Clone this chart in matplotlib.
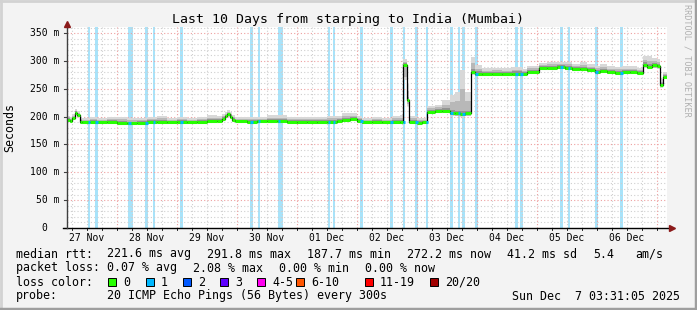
import matplotlib
matplotlib.use("Agg")
import matplotlib.pyplot as plt
import matplotlib.transforms as mtrans
from matplotlib.patches import Rectangle
import numpy as np

# --- data (hours since start of the 10 day window, ms) ---
med_h = [0, 1, 2, 3, 4, 5, 6, 9, 12, 16, 20, 24, 28, 32, 36, 40, 44, 48, 52, 56,
         60, 62, 63, 64, 65, 66, 67, 72, 76, 80, 84, 88, 92, 96, 100, 104, 108, 110,
         113, 116, 118, 122, 126, 130, 133, 134.5, 135.9, 136.8, 140, 142, 144, 147,
         150, 153, 155, 157, 159, 161.6, 163, 166, 170, 174, 178, 182, 184, 188.8,
         192, 196, 199, 202, 205, 208, 211, 213, 216, 219, 222, 225, 228, 230.4, 232,
         234, 236, 237.2, 238.4]
med_v = [194, 192, 197, 207, 203, 191, 190, 191, 190, 191, 189, 188, 189, 190, 191, 190,
         191, 190, 191, 192, 193, 196, 201, 204, 200, 194, 192, 191, 192, 193, 192, 191,
         190, 191, 190, 191, 192, 194, 196, 192, 190, 191, 190, 191, 190, 292, 230, 191,
         189, 190, 209, 210, 211, 207, 206, 205, 206, 281, 277, 276, 277, 276, 277, 276,
         281, 288, 288, 289, 287, 285, 286, 284, 281, 282, 280, 279, 281, 280, 279, 293,
         290, 292, 291, 257, 272]
smoke_up = [6, 5, 6, 5, 5, 7, 6, 7, 6, 7, 8, 7, 6, 7, 8, 6, 7, 6, 7, 8, 6, 7, 6, 6, 6, 7,
            6, 7, 6, 7, 8, 6, 7, 6, 7, 8, 7, 9, 8, 7, 6, 7, 6, 8, 10, 9, 22, 8, 7, 6, 8, 9,
            14, 25, 30, 60, 30, 20, 12, 9, 8, 9, 10, 8, 8, 7, 8, 7, 9, 8, 9, 8, 8, 9, 8, 8,
            7, 8, 7, 12, 14, 10, 9, 8, 6]
smoke_dn = [3, 3, 3, 3, 3, 3, 2, 3, 2, 3, 2, 3, 2, 3, 2, 3, 2, 3, 2, 3, 2, 3, 3, 3, 3, 3,
            2, 3, 2, 3, 2, 3, 2, 3, 2, 3, 3, 3, 3, 3, 3, 2, 3, 3, 3, 20, 8, 3, 2, 3, 3, 3,
            3, 4, 4, 4, 4, 5, 3, 3, 3, 3, 3, 3, 3, 3, 3, 3, 3, 3, 3, 3, 3, 3, 3, 3, 3, 3, 3,
            4, 4, 4, 4, 4, 3]

loss_start = [8.3, 11.2, 24.4, 31.2, 34.3, 45.2, 73.2, 76.3, 84.3, 104.3, 106.3, 117.2,
              129.2, 134.3, 139.3, 143.5, 153.3, 156.3, 158.1, 163.2, 179.2, 181.2,
              197.2, 200.3, 211.3, 221.2]
loss_len = [1, 1, 2, 1, 1, 1, 1, 1, 2, 1, 1, 1, 1, 0.7, 1, 1, 1, 1, 1, 1, 1, 1, 1, 1, 1, 1]

day_labels = ["27 Nov", "28 Nov", "29 Nov", "30 Nov", "01 Dec",
              "02 Dec", "03 Dec", "04 Dec", "05 Dec", "06 Dec"]
y_ticks = [0, 50, 100, 150, 200, 250, 300, 350]
y_labels = ["0", "50 m", "100 m", "150 m", "200 m", "250 m", "300 m", "350 m"]

loss_names = ["0", "1", "2", "3", "4-5", "6-10", "11-19", "20/20"]
loss_colors = ["#26ff00", "#00b8ff", "#0059ff", "#5e00ff", "#ff00f0",
               "#ff5500", "#ff0000", "#a10000"]

W, H = 697, 310
MONO = "DejaVu Sans Mono"
plt.rcParams["font.family"] = MONO

fig = plt.figure(figsize=(W / 100, H / 100), dpi=100, facecolor="#f3f3f3")
ax = fig.add_axes([67 / W, (H - 228) / H, 600 / W, 201 / H])
ax.set_facecolor("white")
ax.set_xlim(0, 240)
ax.set_ylim(0, 361)
for s in ax.spines.values():
    s.set_visible(False)
ax.set_xticks([])
ax.set_yticks([])


def px(x, y):
    return x / W, 1 - y / H


# loss background bars
for st, ln in zip(loss_start, loss_len):
    ax.axvspan(st, st + ln, color="#a8e3fa", lw=0, zorder=0.5)

# grid
dots = (0, (1, 2))
for v in range(10, 361, 10):
    if v % 50:
        ax.axhline(v, color="#cfcfcf", ls=dots, lw=0.8, zorder=1)
for h in np.arange(2, 240, 6):
    if (h - 20) % 24:
        ax.axvline(h, color="#cfcfcf", ls=dots, lw=0.8, zorder=1)
for v in range(50, 361, 50):
    ax.axhline(v, color="#ee9f9f", ls=dots, lw=0.8, zorder=1.1)
for h in range(20, 240, 24):
    ax.axvline(h, color="#ee9f9f", ls=dots, lw=0.8, zorder=1.1)

# smoke
hh = np.array(med_h + [240])
mv = np.array(med_v + [med_v[-1]], dtype=float)
up = np.array(smoke_up + [smoke_up[-1]], dtype=float)
dn = np.array(smoke_dn + [smoke_dn[-1]], dtype=float)
ax.fill_between(hh, mv - dn * 1.3, mv + up * 1.3, step="post", color="#d8d8d8", lw=0, zorder=2)
ax.fill_between(hh, mv - dn, mv + up * 0.75, step="post", color="#b8b8b8", lw=0, zorder=2.1)
ax.fill_between(hh, mv - 2.5, mv + np.minimum(up * 0.45, 5), step="post", color="#939393", lw=0, zorder=2.2)

# median line
ax.step(hh, mv, where="post", color="black", lw=0.9, zorder=3)
ax.hlines(med_v, med_h, hh[1:], color=loss_colors[0], lw=2.2, zorder=3.1)
for st, ln in zip(loss_start, loss_len):
    i = np.searchsorted(hh, st, side="right") - 1
    ax.hlines(mv[i], st, st + min(ln, 1), color=loss_colors[1], lw=2.2, zorder=3.2)

# axes lines with arrows
ax.plot([-1.6, 241.5], [0, 0], color="black", lw=1, clip_on=False, zorder=4)
ax.plot([0, 0], [0, 366], color="#404040", lw=1, clip_on=False, zorder=4)
ax.plot([242], [0], marker=">", color="#8b1a1a", ms=4.5, clip_on=False, zorder=5)
ax.plot([0], [366], marker="^", color="#8b1a1a", ms=4.5, clip_on=False, zorder=5)

# ticks
blend_y = mtrans.blended_transform_factory(ax.transAxes, ax.transData)
for v, lab in zip(y_ticks, y_labels):
    xe = (59 - 67) / 600 if v else (47 - 67) / 600
    ax.text(xe, v, lab, transform=blend_y, ha="right", va="center", fontsize=7)
    ax.plot([-1.2, 0], [v, v], color="#404040", lw=0.8, clip_on=False)
blend_x = mtrans.blended_transform_factory(ax.transData, ax.transAxes)
for k, lab in enumerate(day_labels):
    ax.text(8 + 24 * k, -10 / 201, lab, transform=blend_x, ha="center", va="center", fontsize=7)
for h in np.arange(2, 240, 6):
    ax.plot([h, h], [0, -1.5 / 201], transform=blend_x, color="black", lw=0.6, clip_on=False)

# titles
fig.text(*px(348, 19), "Last 10 Days from starping to India (Mumbai)",
         ha="center", va="center", fontsize=9.5)
fig.text(*px(10, 128), "Seconds", rotation=90, ha="center", va="center", fontsize=8.4)
fig.text(*px(687, 4), "RRDTOOL / TOBI OETIKER", rotation=270, ha="center", va="top",
         fontsize=6.1, color="#b0b0b0")

# legend
fs = 8.4
row1 = [(16, "median rtt:"), (107, "221.6 ms avg"), (207, "291.8 ms max"),
        (307, "187.7 ms min"), (407, "272.2 ms now"), (507, "41.2 ms sd"),
        (593, "5.4"), (635, "am/s")]
for x, s in row1:
    fig.text(*px(x, 254), s, ha="left", va="center", fontsize=fs)
row2 = [(16, "packet loss:"), (107, "0.07 % avg"), (193, "2.08 % max"),
        (279, "0.00 % min"), (365, "0.00 % now")]
for x, s in row2:
    fig.text(*px(x, 268), s, ha="left", va="center", fontsize=fs)
fig.text(*px(16, 282), "loss color:", ha="left", va="center", fontsize=fs)
box_x = [108, 146, 183, 220, 257, 296, 365, 430]
for bx, name, col in zip(box_x, loss_names, loss_colors):
    fig.patches.append(Rectangle(px(bx, 286), 8 / W, 8 / H, transform=fig.transFigure,
                                 facecolor=col, edgecolor="black", lw=0.7))
    fig.text(*px(bx + 15, 282), name, ha="left", va="center", fontsize=fs)
fig.text(*px(16, 296), "probe:", ha="left", va="center", fontsize=fs)
fig.text(*px(107, 296), "20 ICMP Echo Pings (56 Bytes) every 300s",
         ha="left", va="center", fontsize=fs)
fig.text(*px(680, 296), "Sun Dec  7 03:31:05 2025", ha="right", va="center", fontsize=fs)

# frame
fig.add_artist(plt.Line2D([0, 1], [1 - 1 / H, 1 - 1 / H], color="#d2d2d2", lw=2))
fig.add_artist(plt.Line2D([1 / W, 1 / W], [0, 1], color="#d2d2d2", lw=2))
fig.add_artist(plt.Line2D([0, 1], [1.5 / H, 1.5 / H], color="#9e9e9e", lw=2.5))
fig.add_artist(plt.Line2D([1 - 1.5 / W, 1 - 1.5 / W], [0, 1], color="#9e9e9e", lw=2.5))

fig.savefig("out.png", dpi=100, facecolor=fig.get_facecolor())
